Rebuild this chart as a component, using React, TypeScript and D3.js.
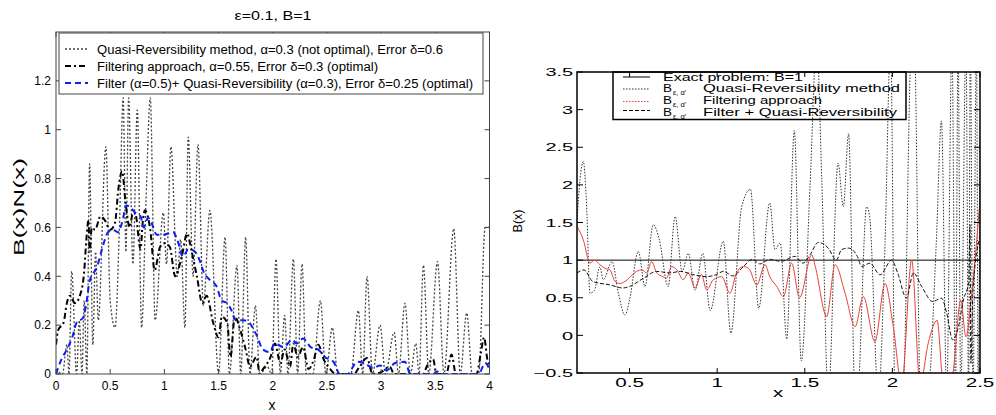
import React from 'react';
import * as d3 from 'd3';

type P = [number, number];

// ---------- Left panel: B(x)N(x), eps = 0.1, B = 1 ----------
const leftTitle = 'ε=0.1, B=1';
const leftXTicks = [0, 0.5, 1, 1.5, 2, 2.5, 3, 3.5, 4];
const leftYTicks = [0, 0.2, 0.4, 0.6, 0.8, 1, 1.2];
const leftLegend = [
  'Quasi-Reversibility method, α=0.3 (not optimal), Error δ=0.6',
  'Filtering approach, α=0.55, Error δ=0.3 (optimal)',
  'Filter (α=0.5)+ Quasi-Reversibility (α=0.3), Error δ=0.25 (optimal)',
];

const qrLeft: P[] = [
  [0, 0.02], [0.06, 0], [0.1, 0.12], [0.12, 0], [0.145, 0.42], [0.19, 0], [0.215, 0.22], [0.24, 0],
  [0.26, 0.3], [0.285, 0], [0.31, 0.86], [0.34, 0.12], [0.365, 0.5], [0.39, 0.22], [0.46, 0.93],
  [0.5, 0.3], [0.545, 0.19], [0.585, 0.6], [0.62, 1.13], [0.645, 0.5], [0.67, 1.13], [0.71, 0.45],
  [0.75, 1.08], [0.79, 0.19], [0.83, 0.7], [0.87, 1.13], [0.915, 0.22], [0.99, 0.66], [1.02, 0.45],
  [1.06, 0.93], [1.12, 0.4], [1.15, 0.55], [1.19, 0.19], [1.22, 0.97], [1.265, 0.4], [1.31, 0.94],
  [1.36, 0.28], [1.42, 0.67], [1.5, 0], [1.56, 0.56], [1.6, 0], [1.67, 0.445], [1.705, 0],
  [1.75, 0.56], [1.79, 0], [1.84, 0.28], [1.88, 0], [1.95, 0.03], [1.99, 0], [2.03, 0.47],
  [2.07, 0], [2.11, 0.24], [2.14, 0], [2.19, 0.47], [2.23, 0], [2.27, 0.45], [2.31, 0], [2.37, 0],
  [2.44, 0.3], [2.49, 0], [2.55, 0.19], [2.6, 0], [2.72, 0], [2.79, 0.26], [2.83, 0], [2.87, 0.4],
  [2.92, 0], [2.99, 0.2], [3.04, 0], [3.12, 0.17], [3.16, 0], [3.22, 0.29], [3.27, 0], [3.32, 0.125],
  [3.35, 0], [3.39, 0.445], [3.44, 0], [3.52, 0.46], [3.58, 0], [3.67, 0.595], [3.73, 0], [3.79, 0.25],
  [3.84, 0], [3.9, 0], [3.96, 0.6], [4, 0.6],
];

const filterLeft: P[] = [
  [0, 0.12], [0.02, 0.18], [0.07, 0.21], [0.1, 0.29], [0.13, 0.32], [0.175, 0.29], [0.22, 0.32],
  [0.26, 0.42], [0.28, 0.55], [0.3, 0.63], [0.31, 0.5], [0.33, 0.6], [0.36, 0.59], [0.41, 0.645],
  [0.45, 0.63], [0.5, 0.59], [0.545, 0.62], [0.575, 0.755], [0.61, 0.83], [0.64, 0.71], [0.68, 0.6],
  [0.71, 0.66], [0.73, 0.66], [0.78, 0.51], [0.8, 0.62], [0.82, 0.67], [0.87, 0.59], [0.91, 0.425],
  [0.96, 0.52], [1.0, 0.535], [1.05, 0.52], [1.1, 0.4], [1.16, 0.48], [1.21, 0.575], [1.25, 0.505],
  [1.3, 0.4], [1.35, 0.29], [1.39, 0.32], [1.45, 0.21], [1.5, 0.15], [1.53, 0.235], [1.58, 0.21],
  [1.61, 0.07], [1.65, 0.235], [1.7, 0.18], [1.75, 0.1], [1.79, 0.03], [1.85, 0.07], [1.88, 0],
  [1.91, 0.02], [1.98, 0.07], [2.02, 0.125], [2.07, 0.045], [2.11, 0.1], [2.16, 0.03], [2.19, 0.125],
  [2.23, 0.07], [2.28, 0.11], [2.33, 0.02], [2.38, 0.06], [2.42, 0.12], [2.47, 0.06], [2.53, 0.02],
  [2.58, 0], [2.75, 0], [2.8, 0.03], [2.87, 0.065], [2.92, 0], [2.99, 0.005], [3.08, 0.03], [3.12, 0],
  [3.39, 0], [3.42, 0.03], [3.48, 0.06], [3.51, 0], [3.6, 0], [3.65, 0.08], [3.69, 0], [3.88, 0],
  [3.92, 0.085], [3.95, 0.15], [3.98, 0.06], [4, 0.03],
];

const comboLeft: P[] = [
  [0, 0], [0.05, 0.06], [0.1, 0.1], [0.15, 0.15], [0.19, 0.21], [0.25, 0.23], [0.28, 0.29],
  [0.31, 0.38], [0.38, 0.44], [0.43, 0.52], [0.48, 0.58], [0.53, 0.59], [0.57, 0.58], [0.61, 0.62],
  [0.65, 0.69], [0.68, 0.685], [0.73, 0.66], [0.78, 0.645], [0.81, 0.6], [0.85, 0.64], [0.88, 0.62],
  [0.93, 0.57], [0.99, 0.57], [1.08, 0.58], [1.13, 0.535], [1.17, 0.48], [1.22, 0.51], [1.27, 0.505],
  [1.33, 0.46], [1.36, 0.42], [1.42, 0.385], [1.48, 0.36], [1.53, 0.3], [1.58, 0.29], [1.62, 0.26],
  [1.66, 0.22], [1.73, 0.22], [1.77, 0.215], [1.85, 0.16], [1.91, 0.1], [1.97, 0.09], [2.02, 0.125],
  [2.1, 0.11], [2.18, 0.14], [2.22, 0.125], [2.28, 0.145], [2.35, 0.11], [2.42, 0.1], [2.48, 0.07],
  [2.56, 0.05], [2.62, 0], [2.69, 0], [2.78, 0.05], [2.84, 0.045], [2.93, 0.025], [2.99, 0.035],
  [3.05, 0.015], [3.13, 0.045], [3.22, 0.05], [3.27, 0], [3.48, 0], [3.52, 0.01], [3.55, 0],
  [3.9, 0], [3.96, 0.045], [4, 0.02],
];

// ---------- Right panel: B(x) ----------
const rightXTicks = [0.5, 1, 1.5, 2, 2.5];
const rightYTicks = [-0.5, 0, 0.5, 1, 1.5, 2, 2.5, 3, 3.5];
const exactB = 1;
const rightLegend = [
  'Exact problem: B=1',
  'Quasi-Reversibility method',
  'Filtering approach',
  'Filter + Quasi-Reversibility',
];

const qrRight: P[] = [
  [0.2, 1.5], [0.217, 2.07], [0.236, 2.31], [0.255, 1.71], [0.274, 0.56], [0.3, 0.6], [0.33, 0.91],
  [0.35, 0.74], [0.4, 0.98], [0.436, 0.56], [0.474, 0.27], [0.5, 0.47], [0.55, 1.115], [0.588, 0.65],
  [0.635, 1.47], [0.67, 1.27], [0.72, 0.65], [0.76, 1.58], [0.8, 0.85], [0.835, 1.09], [0.874, 0.6],
  [0.918, 1.09], [0.96, 0.33], [1.035, 1.25], [1.078, 0.03], [1.14, 1.71], [1.19, 1.94], [1.237, 0.36],
  [1.3, 1.76], [1.33, 1.14], [1.36, 1.23], [1.397, -0.05], [1.44, 2.72], [1.48, -0.34], [1.53, 1.98],
  [1.568, 3.9], [1.597, 2.07], [1.634, -0.8], [1.69, 2.29], [1.72, 1.71], [1.75, 2.68], [1.787, -0.8],
  [1.8, -0.8], [1.853, 1.71], [1.87, 1.58], [1.92, -0.8], [1.958, 1.23], [1.99, 3.9], [2.015, -0.8],
  [2.06, -0.8], [2.11, 3.9], [2.125, 3.9], [2.16, -0.8], [2.2, -0.8], [2.25, 1.2], [2.28, 2.85],
  [2.31, -0.8], [2.34, 3.9], [2.36, -0.8], [2.375, 3.9], [2.39, -0.8], [2.42, 3.9], [2.435, -0.8],
  [2.445, 3.9], [2.46, -0.8], [2.48, 3.9], [2.49, -0.8], [2.5, 2.8],
];

const filterRight: P[] = [
  [0.2, 1.45], [0.236, 1.27], [0.274, 0.96], [0.3, 1.0], [0.33, 0.94], [0.36, 0.89], [0.388, 0.87],
  [0.417, 0.716], [0.445, 0.69], [0.474, 0.716], [0.54, 0.85], [0.57, 0.87], [0.598, 0.83],
  [0.626, 0.98], [0.655, 0.83], [0.69, 0.78], [0.71, 0.76], [0.74, 0.915], [0.77, 0.87], [0.807, 0.74],
  [0.835, 0.83], [0.874, 0.63], [0.91, 0.81], [0.94, 0.605], [0.978, 0.74], [1.026, 0.78],
  [1.073, 0.56], [1.11, 0.83], [1.15, 0.915], [1.18, 0.89], [1.226, 0.67], [1.273, 0.94], [1.3, 0.78],
  [1.34, 0.65], [1.378, 0.516], [1.425, 0.96], [1.47, 0.5], [1.54, 1.07], [1.56, 0.915], [1.625, 0.25],
  [1.673, 0.94], [1.73, 0.56], [1.787, 0.116], [1.834, 0.516], [1.9, -0.083], [1.958, 0.69],
  [2.005, 0.116], [2.053, -0.65], [2.11, 1.0], [2.158, -0.65], [2.205, -0.1], [2.255, 0.2],
  [2.29, -0.6], [2.34, -0.55], [2.39, 0.47], [2.42, -0.02], [2.453, 0.56], [2.5, 1.8],
];

const comboRight: P[] = [
  [0.2, 0.83], [0.24, 0.87], [0.29, 0.716], [0.39, 0.67], [0.46, 0.63], [0.5, 0.65], [0.58, 0.76],
  [0.655, 0.85], [0.73, 0.83], [0.79, 0.85], [0.86, 0.81], [0.94, 0.78], [0.997, 0.81], [1.035, 0.85],
  [1.09, 0.79], [1.15, 0.915], [1.2, 1.01], [1.245, 0.95], [1.3, 1.01], [1.36, 0.985], [1.378, 0.99],
  [1.444, 1.05], [1.49, 0.96], [1.53, 1.07], [1.577, 1.235], [1.634, 1.16], [1.68, 1.0], [1.71, 1.14],
  [1.75, 1.16], [1.8, 1.05], [1.825, 0.915], [1.872, 0.96], [1.93, 0.805], [1.996, 1.0], [2.03, 0.83],
  [2.08, 0.495], [2.12, 0.83], [2.167, 0.65], [2.23, 0.45], [2.28, 0.495], [2.31, 0.295],
  [2.344, -0.06], [2.377, 0.116], [2.405, 0.47], [2.435, 0.7], [2.443, 1.47], [2.448, -0.37],
  [2.46, 0.6], [2.5, 1.31],
];

const SANS = '"Liberation Sans", Arial, Helvetica, sans-serif';

function LeftPanel() {
  const x = d3.scaleLinear().domain([0, 4]).range([56, 489.5]);
  const y = d3.scaleLinear().domain([0, 1.4]).range([374, 32]);
  const line = d3.line<P>().x((d) => x(d[0])).y((d) => y(d[1])).curve(d3.curveMonotoneX);
  const [x0, x1] = x.range();
  const [y0, y1] = y.range();
  const frame = '#444';
  const legendRows = [
    { dash: '2,2', color: '#444', w: 1.3, len: 346 },
    { dash: '6,3,2,3', color: '#000', w: 2, len: 281 },
    { dash: '6,4', color: '#0a1ef5', w: 2, len: 376 },
  ];
  return (
    <g fontFamily={SANS}>
      <defs>
        <clipPath id="clipL">
          <rect x={x0} y={y1} width={x1 - x0} height={y0 - y1} />
        </clipPath>
      </defs>
      <text x={273} y={20} textAnchor="middle" fontSize={13.5} textLength={77} lengthAdjust="spacingAndGlyphs">
        {leftTitle}
      </text>
      <g clipPath="url(#clipL)" fill="none">
        <path d={line(qrLeft) || ''} stroke="#444" strokeWidth={1.3} strokeDasharray="2,2" />
        <path d={line(filterLeft) || ''} stroke="#000" strokeWidth={2} strokeDasharray="6,3,2,3" />
        <path d={line(comboLeft) || ''} stroke="#0a1ef5" strokeWidth={2} strokeDasharray="6,4" />
      </g>
      <rect x={x0} y={y1} width={x1 - x0} height={y0 - y1} fill="none" stroke={frame} strokeWidth={1} />
      {leftXTicks.map((t) => (
        <g key={'lx' + t}>
          <line x1={x(t)} x2={x(t)} y1={y0} y2={y0 - 5} stroke={frame} />
          <line x1={x(t)} x2={x(t)} y1={y1} y2={y1 + 5} stroke={frame} />
          <text x={x(t)} y={390} textAnchor="middle" fontSize={12}>{String(t)}</text>
        </g>
      ))}
      {leftYTicks.map((t) => (
        <g key={'ly' + t}>
          <line x1={x0} x2={x0 + 5} y1={y(t)} y2={y(t)} stroke={frame} />
          <line x1={x1} x2={x1 - 5} y1={y(t)} y2={y(t)} stroke={frame} />
          <text x={51} y={y(t) + 4.3} textAnchor="end" fontSize={12}>{String(t)}</text>
        </g>
      ))}
      <text x={272} y={410} textAnchor="middle" fontSize={14}>x</text>
      <text transform="translate(24,207) rotate(-90)" textAnchor="middle" fontSize={14} textLength={98} lengthAdjust="spacingAndGlyphs">
        B(x)N(x)
      </text>
      <rect x={59} y={33} width={424} height={61} fill="#fff" stroke={frame} strokeWidth={1} />
      {legendRows.map((r, i) => {
        const cy = 49 + i * 17;
        return (
          <g key={'ll' + i}>
            <line x1={65} x2={88} y1={cy} y2={cy} stroke={r.color} strokeWidth={r.w} strokeDasharray={r.dash} />
            <text x={97} y={cy + 4.5} fontSize={12.5} textLength={r.len} lengthAdjust="spacingAndGlyphs">
              {leftLegend[i]}
            </text>
          </g>
        );
      })}
    </g>
  );
}

function RightPanel() {
  const x = d3.scaleLinear().domain([0.2, 2.5]).range([577, 980]);
  const y = d3.scaleLinear().domain([-0.5, 3.5]).range([373, 72]);
  const line = d3.line<P>().x((d) => x(d[0])).y((d) => y(d[1])).curve(d3.curveMonotoneX);
  const [x0, x1] = x.range();
  const [y0, y1] = y.range();
  const fmt = (v: number) => String(v).replace('-', '−');
  const exactLine: P[] = [[0.2, exactB], [2.5, exactB]];
  const legendRows = [
    { dash: undefined as string | undefined, color: '#000', sub: false, base: 81, ly: 77, tx: 663, len: 140 },
    { dash: '1.5,1.5', color: '#333', sub: true, base: 92, ly: 89, tx: 703, len: 197 },
    { dash: '1.5,1.5', color: '#e8403a', sub: true, base: 104, ly: 101.5, tx: 703, len: 119 },
    { dash: '4,2', color: '#000', sub: true, base: 115.5, ly: 110.5, tx: 703, len: 194 },
  ];
  return (
    <g fontFamily={SANS}>
      <defs>
        <clipPath id="clipR">
          <rect x={x0} y={y1} width={x1 - x0} height={y0 - y1} />
        </clipPath>
      </defs>
      <g clipPath="url(#clipR)" fill="none">
        <path d={line(exactLine) || ''} stroke="#000" strokeWidth={1} />
        <path d={line(qrRight) || ''} stroke="#333" strokeWidth={1} strokeDasharray="1.5,1.5" />
        <path d={line(filterRight) || ''} stroke="#e8403a" strokeWidth={1} />
        <path d={line(comboRight) || ''} stroke="#111" strokeWidth={1} strokeDasharray="4,2" />
      </g>
      <rect x={x0} y={y1} width={x1 - x0} height={y0 - y1} fill="none" stroke="#000" strokeWidth={1.5} />
      {rightXTicks.map((t) => (
        <g key={'rx' + t}>
          <line x1={x(t)} x2={x(t)} y1={y0} y2={y0 - 5} stroke="#000" />
          <line x1={x(t)} x2={x(t)} y1={y1} y2={y1 + 5} stroke="#000" />
          <text transform={`translate(${x(t)},387) scale(1.65,1)`} textAnchor="middle" fontSize={12.5}>
            {fmt(t)}
          </text>
        </g>
      ))}
      {rightYTicks.map((t) => (
        <g key={'ry' + t}>
          <line x1={x0} x2={x0 + 6} y1={y(t)} y2={y(t)} stroke="#000" />
          <line x1={x1} x2={x1 - 6} y1={y(t)} y2={y(t)} stroke="#000" />
          <text transform={`translate(573,${y(t) + 4.2}) scale(1.7,1)`} textAnchor="end" fontSize={11.7}>
            {fmt(t)}
          </text>
        </g>
      ))}
      <text transform="translate(778,397) scale(1.7,1)" textAnchor="middle" fontSize={12}>x</text>
      <text transform="translate(522,221) rotate(-90)" textAnchor="middle" fontSize={12.5}>B(x)</text>
      <rect x={613} y={y1} width={293} height={119.5 - y1} fill="none" stroke="#000" strokeWidth={1.5} />
      {legendRows.map((r, i) => (
        <g key={'rl' + i}>
          <line x1={623} x2={650} y1={r.ly} y2={r.ly} stroke={r.color} strokeWidth={1} strokeDasharray={r.dash} />
          {r.sub && (
            <text x={663} y={r.base} fontSize={10.5}>
              <tspan textLength={9} lengthAdjust="spacingAndGlyphs">B</tspan>
              <tspan x={673} dy={3} fontSize={7.5}>ε, α'</tspan>
            </text>
          )}
          <text x={r.tx} y={r.base} fontSize={10.5} textLength={r.len} lengthAdjust="spacingAndGlyphs">
            {rightLegend[i]}
          </text>
        </g>
      ))}
    </g>
  );
}

export default function App() {
  return (
    <svg
      width={996}
      height={415}
      viewBox="0 0 996 415"
      style={{ position: 'absolute', left: 0, top: 0, background: '#fff' }}
    >
      <rect width={996} height={415} fill="#fff" />
      <LeftPanel />
      <RightPanel />
    </svg>
  );
}
